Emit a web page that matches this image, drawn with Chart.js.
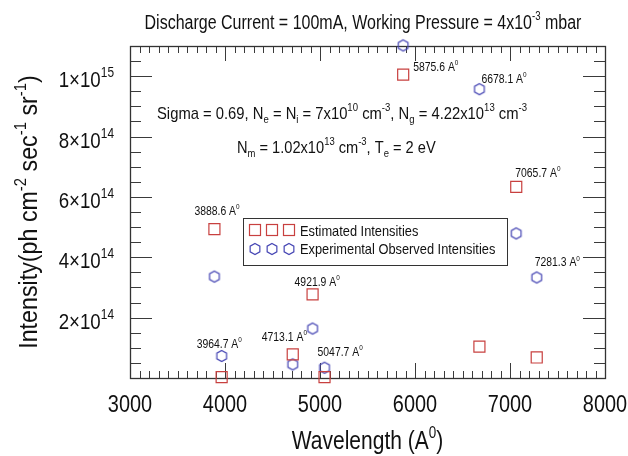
<!DOCTYPE html>
<html>
<head>
<meta charset="utf-8">
<script src="https://cdn.jsdelivr.net/npm/chart.js@4/dist/chart.umd.min.js"></script>
<style>
  html, body { margin: 0; padding: 0; background: #ffffff; }
  #wrap { width: 628px; height: 456px; }
</style>
</head>
<body>
<div id="wrap"><canvas id="c" width="628" height="456"></canvas></div>
<script>
// Spectral lines (Angstrom) and their intensities (ph cm^-2 sec^-1 sr^-1)
const wavelengths = [3888.6, 3964.7, 4713.1, 4921.9, 5047.7, 5875.6, 6678.1, 7065.7, 7281.3];
const estimatedIntensity = [4.93e14, 0.03e14, 0.78e14, 2.77e14, 0.03e14, 10.05e14, 1.04e14, 6.33e14, 0.68e14];
const observedIntensity = [3.36e14, 0.73e14, 0.45e14, 1.64e14, 0.34e14, 11.02e14, 9.57e14, 4.79e14, 3.33e14];

// Axis ticks
const xTickValues = [3000, 4000, 5000, 6000, 7000, 8000];
const yTickValues = [2e14, 4e14, 6e14, 8e14, 1e15];
const yTickMantissa = ['2', '4', '6', '8', '1'];
const yTickExponent = ['14', '14', '14', '14', '15'];

// Which marker each wavelength label sits next to, and its pixel offset from that marker
const labelAnchorSeries = ['est', 'exp', 'est', 'est', 'exp', 'est', 'exp', 'est', 'exp'];
const labelOffsets = [[-20, -14.5], [-25, -8], [-31, -13.5], [-18, -8.5], [-7, -12], [10, -4], [2, -6.5], [-1, -10], [-2, -11]];

const FONT = '"Liberation Sans", Arial, Helvetica, sans-serif';
const RED = '#c8403f';
const BLUE = '#4646b4';
const INK = '#111111';

function hexagonCanvas(r, color) {
  const s = Math.ceil(2 * r + 4);
  const c = document.createElement('canvas');
  c.width = s; c.height = s;
  const g = c.getContext('2d');
  g.strokeStyle = color;
  g.lineWidth = 1.2;
  g.beginPath();
  for (let k = 0; k < 6; k++) {
    const a = (-90 + 60 * k) * Math.PI / 180;
    const px = s / 2 + r * Math.cos(a), py = s / 2 + r * Math.sin(a);
    if (k === 0) g.moveTo(px, py); else g.lineTo(px, py);
  }
  g.closePath();
  g.stroke();
  return c;
}
const hexMarker = hexagonCanvas(5.6, BLUE);

// Draws condensed text made of runs: [text] normal, [text,'sup'] superscript, [text,'sub'] subscript
function drawRich(ctx, runs, x, y, size, align, squeeze) {
  const sq = squeeze || 1;
  const small = Math.round(size * 0.62);
  const parts = runs.map(r => {
    const kind = r[1] || 'n';
    const fs = kind === 'n' ? size : small;
    ctx.font = fs + 'px ' + FONT;
    return { t: r[0], kind: kind, fs: fs, w: ctx.measureText(r[0]).width * sq };
  });
  const total = parts.reduce((s, p) => s + p.w, 0);
  let cx = align === 'center' ? x - total / 2 : (align === 'right' ? x - total : x);
  ctx.fillStyle = INK;
  ctx.textAlign = 'left';
  ctx.textBaseline = 'alphabetic';
  for (const p of parts) {
    ctx.font = p.fs + 'px ' + FONT;
    const dy = p.kind === 'sup' ? -size * 0.45 : (p.kind === 'sub' ? size * 0.25 : 0);
    ctx.save();
    ctx.translate(cx, y + dy);
    ctx.scale(sq, 1);
    ctx.fillText(p.t, 0, 0);
    ctx.restore();
    cx += p.w;
  }
}

const framePlugin = {
  id: 'frameAndTicks',
  beforeDatasetsDraw(chart) {
    const ctx = chart.ctx;
    const a = chart.chartArea;
    const xs = chart.scales.x, ys = chart.scales.y;
    ctx.save();
    ctx.strokeStyle = '#3a3a3a';
    ctx.lineWidth = 1;
    ctx.beginPath();
    for (let v = 3000; v <= 8000; v += 100) {
      const major = v % 1000 === 0;
      const px = Math.round(xs.getPixelForValue(v)) + 0.5;
      const len = major ? 15 : 7;
      ctx.moveTo(px, a.bottom); ctx.lineTo(px, a.bottom - len);
      ctx.moveTo(px, a.top); ctx.lineTo(px, a.top + len);
    }
    for (let k = 1; k <= 22; k++) {
      const v = k * 0.5e14;
      const major = k % 4 === 0;
      const py = Math.round(ys.getPixelForValue(v)) + 0.5;
      const len = major ? 22 : 11;
      ctx.moveTo(a.left, py); ctx.lineTo(a.left + len, py);
      ctx.moveTo(a.right, py); ctx.lineTo(a.right - len, py);
    }
    ctx.stroke();
    ctx.lineWidth = 1.3;
    ctx.strokeStyle = '#333333';
    ctx.strokeRect(Math.round(a.left) + 0.5, Math.round(a.top) + 0.5,
      Math.round(a.right - a.left), Math.round(a.bottom - a.top));

    // Tick labels
    xTickValues.forEach(v => drawRich(ctx, [[String(v)]], xs.getPixelForValue(v), 412, 24, 'center', 0.83));
    yTickValues.forEach((v, i) => {
      drawRich(ctx, [[yTickMantissa[i] + '\u00d710'], [yTickExponent[i], 'sup']], 114, ys.getPixelForValue(v) + 11, 22, 'right', 0.85);
    });

    // Title, axis titles and plasma parameters
    drawRich(ctx, [['Discharge Current = 100mA, Working Pressure = 4x10'], ['-3', 'sup'], [' mbar']], 363, 29, 20, 'center', 0.8);
    drawRich(ctx, [['Wavelength (A'], ['0', 'sup'], [')']], (a.left + a.right) / 2, 449, 25, 'center', 0.84);
    ctx.save();
    ctx.translate(37, (a.top + a.bottom) / 2);
    ctx.rotate(-Math.PI / 2);
    drawRich(ctx, [['Intensity(ph cm'], ['-2', 'sup'], [' sec'], ['-1', 'sup'], [' sr'], ['-1', 'sup'], [')']], 0, 0, 25, 'center', 0.93);
    ctx.restore();

    drawRich(ctx, [['Sigma = 0.69, N'], ['e', 'sub'], [' = N'], ['i', 'sub'], [' = 7x10'], ['10', 'sup'], [' cm'], ['-3', 'sup'],
      [', N'], ['g', 'sub'], [' = 4.22x10'], ['13', 'sup'], [' cm'], ['-3', 'sup']], 157, 119, 17, 'left', 0.87);
    drawRich(ctx, [['N'], ['m', 'sub'], [' = 1.02x10'], ['13', 'sup'], [' cm'], ['-3', 'sup'], [', T'], ['e', 'sub'], [' = 2 eV']], 237, 153, 17, 'left', 0.86);

    // Wavelength labels beside their markers
    wavelengths.forEach((wl, i) => {
      const vals = labelAnchorSeries[i] === 'est' ? estimatedIntensity : observedIntensity;
      const px = xs.getPixelForValue(wl) + labelOffsets[i][0];
      const py = ys.getPixelForValue(vals[i]) + labelOffsets[i][1];
      drawRich(ctx, [[wl.toFixed(1) + ' A'], ['0', 'sup']], px, py, 13, 'left', 0.8);
    });

    // Legend box
    ctx.lineWidth = 1;
    ctx.strokeStyle = '#333333';
    ctx.fillStyle = '#ffffff';
    ctx.fillRect(243, 218, 264, 47);
    ctx.strokeRect(243.5, 218.5, 264, 47);
    ctx.lineWidth = 1.2;
    ctx.strokeStyle = RED;
    [255, 272, 289].forEach(mx => {
      ctx.strokeRect(mx - 5.5, 230 - 5.5, 11, 11);
      ctx.drawImage(hexMarker, mx - hexMarker.width / 2, 249 - hexMarker.height / 2);
    });
    drawRich(ctx, [['Estimated Intensities']], 300, 236, 15, 'left', 0.855);
    drawRich(ctx, [['Experimental Observed Intensities']], 300, 254, 15, 'left', 0.855);
    ctx.restore();
  }
};

new Chart(document.getElementById('c'), {
  type: 'scatter',
  data: {
    datasets: [
      {
        label: 'Estimated Intensities',
        data: wavelengths.map((w, i) => ({ x: w, y: estimatedIntensity[i] })),
        pointStyle: 'rect',
        pointRadius: 7.8,
        borderColor: RED,
        backgroundColor: 'rgba(0,0,0,0)',
        borderWidth: 1.2,
        clip: false
      },
      {
        label: 'Experimental Observed Intensities',
        data: wavelengths.map((w, i) => ({ x: w, y: observedIntensity[i] })),
        pointStyle: hexMarker,
        pointRadius: 6,
        borderColor: BLUE,
        backgroundColor: 'rgba(0,0,0,0)',
        clip: false
      }
    ]
  },
  options: {
    responsive: false,
    animation: false,
    devicePixelRatio: 1,
    layout: { padding: { left: 130, right: 23, top: 46, bottom: 78 } },
    scales: {
      x: { type: 'linear', display: false, min: 3000, max: 8000 },
      y: { type: 'linear', display: false, min: 0, max: 1.1e15 }
    },
    plugins: { legend: { display: false }, tooltip: { enabled: false } }
  },
  plugins: [framePlugin]
});
</script>
</body>
</html>
